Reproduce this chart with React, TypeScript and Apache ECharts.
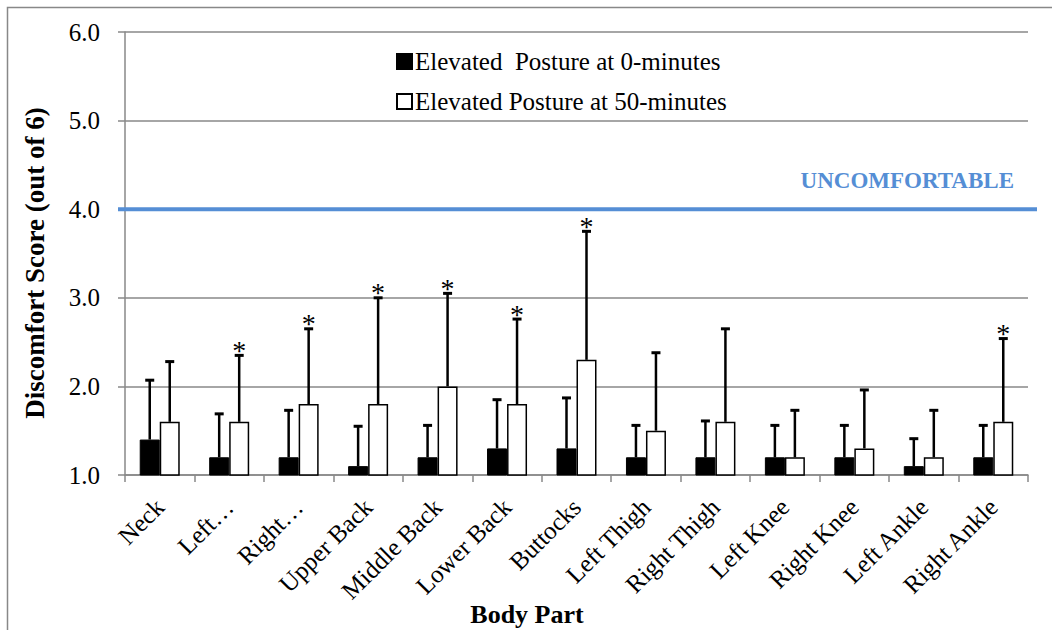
import React, { useEffect, useRef } from "react";
import * as echarts from "echarts";

const categories = [
  "Neck",
  "Left…",
  "Right…",
  "Upper Back",
  "Middle Back",
  "Lower Back",
  "Buttocks",
  "Left Thigh",
  "Right Thigh",
  "Left Knee",
  "Right Knee",
  "Left Ankle",
  "Right Ankle",
];
const seriesNames = ["Elevated  Posture at 0-minutes", "Elevated Posture at 50-minutes"];
const mean0 = [1.4, 1.2, 1.2, 1.1, 1.2, 1.3, 1.3, 1.2, 1.2, 1.2, 1.2, 1.1, 1.2];
const mean50 = [1.6, 1.6, 1.8, 1.8, 2.0, 1.8, 2.3, 1.5, 1.6, 1.2, 1.3, 1.2, 1.6];
const errTop0 = [2.07, 1.69, 1.73, 1.55, 1.56, 1.85, 1.87, 1.56, 1.61, 1.56, 1.56, 1.41, 1.56];
const errTop50 = [2.28, 2.35, 2.65, 3.0, 3.05, 2.76, 3.75, 2.38, 2.65, 1.73, 1.96, 1.73, 2.54];
const significant = [0, 1, 1, 1, 1, 1, 1, 0, 0, 0, 0, 0, 1];
const yMin = 1;
const yMax = 6;
const yInterval = 1;
const threshold = 4.0;
const thresholdLabel = "UNCOMFORTABLE";
const yAxisTitle = "Discomfort Score (out of 6)";
const xAxisTitle = "Body Part";

const FONT = "'Liberation Serif', 'Times New Roman', serif";
const GRAY = "#888888";
const BLUE = "#558ED5";
const BAR_W = 20;

function makeErrRender(offset: number, withStar: boolean) {
  return (params: any, api: any) => {
    const i = api.value(0);
    const base = api.coord([i, api.value(1)]);
    const top = api.coord([i, api.value(2)]);
    const x = base[0] + offset;
    const children: any[] = [
      {
        type: "line",
        shape: { x1: x, y1: base[1], x2: x, y2: top[1] },
        style: { stroke: "#000", lineWidth: 2.5 },
      },
      {
        type: "line",
        shape: { x1: x - 4.5, y1: top[1], x2: x + 4.5, y2: top[1] },
        style: { stroke: "#000", lineWidth: 3 },
      },
    ];
    if (withStar && api.value(3)) {
      children.push({
        type: "text",
        x: x,
        y: top[1] - 5,
        style: {
          text: "*",
          fontSize: 28,
          fontFamily: FONT,
          fill: "#000",
          align: "center",
          verticalAlign: "middle",
        },
      });
    }
    return { type: "group", children };
  };
}

export default function App() {
  const ref = useRef<HTMLDivElement>(null);
  useEffect(() => {
    document.body.style.margin = "0";
    const chart = echarts.init(ref.current!, undefined, { renderer: "svg" });
    const option: any = {
      animation: false,
      backgroundColor: "#fff",
      graphic: [
        {
          type: "rect",
          shape: { x: 7.5, y: 7.5, width: 1200, height: 800 },
          style: { fill: "none", stroke: GRAY, lineWidth: 1.5 },
          silent: true,
        },
        {
          type: "text",
          x: 35,
          y: 263,
          rotation: Math.PI / 2,
          style: {
            text: yAxisTitle,
            fontSize: 27,
            fontWeight: "bold",
            fontFamily: FONT,
            fill: "#000",
            align: "center",
            verticalAlign: "middle",
          },
          silent: true,
        },
        {
          type: "text",
          x: 527,
          y: 614,
          style: {
            text: xAxisTitle,
            fontSize: 26,
            fontWeight: "bold",
            fontFamily: FONT,
            fill: "#000",
            align: "center",
            verticalAlign: "middle",
          },
          silent: true,
        },
      ],
      legend: {
        orient: "vertical",
        left: 391,
        top: 44,
        icon: "rect",
        itemWidth: 15,
        itemHeight: 15,
        itemGap: 15,
        textStyle: { fontSize: 25, fontFamily: FONT, color: "#000", padding: [0, 0, 0, -2] },
        data: seriesNames,
      },
      grid: { left: 125, right: 24, top: 32, bottom: 155, containLabel: false },
      xAxis: {
        type: "category",
        data: categories,
        axisLine: { lineStyle: { color: GRAY, width: 1.5 } },
        axisTick: { show: true, length: 7, lineStyle: { color: GRAY, width: 1.5 } },
        axisLabel: {
          rotate: 45,
          interval: 0,
          fontSize: 25,
          fontFamily: FONT,
          color: "#000",
          margin: 28,
        },
      },
      yAxis: {
        type: "value",
        min: yMin,
        max: yMax,
        interval: yInterval,
        axisLine: { show: true, lineStyle: { color: GRAY, width: 1.5 } },
        axisTick: { show: true, length: 7, lineStyle: { color: GRAY, width: 1.5 } },
        splitLine: { show: true, lineStyle: { color: GRAY, width: 1.5 } },
        axisLabel: {
          formatter: (v: number) => v.toFixed(1),
          fontSize: 25,
          fontFamily: FONT,
          color: "#000",
          margin: 25,
        },
      },
      series: [
        {
          name: seriesNames[0],
          type: "bar",
          data: mean0,
          barWidth: BAR_W,
          barGap: "0%",
          itemStyle: { color: "#000", borderColor: "#000", borderWidth: 1 },
        },
        {
          name: seriesNames[1],
          type: "bar",
          data: mean50,
          barWidth: BAR_W,
          barGap: "0%",
          itemStyle: { color: "#fff", borderColor: "#000", borderWidth: 1.5 },
        },
        {
          type: "custom",
          name: "err0",
          renderItem: makeErrRender(-BAR_W / 2, false),
          data: categories.map((_, i) => [i, mean0[i], errTop0[i], 0]),
          z: 5,
          silent: true,
        },
        {
          type: "custom",
          name: "err50",
          renderItem: makeErrRender(BAR_W / 2, true),
          data: categories.map((_, i) => [i, mean50[i], errTop50[i], significant[i]]),
          z: 5,
          silent: true,
        },
        {
          type: "custom",
          name: "threshold",
          silent: true,
          z: 6,
          data: [[0, threshold]],
          renderItem: (params: any, api: any) => {
            const cs = params.coordSys;
            const y = api.coord([0, api.value(1)])[1];
            return {
              type: "group",
              children: [
                {
                  type: "line",
                  shape: { x1: cs.x - 7, y1: y, x2: cs.x + cs.width + 9, y2: y },
                  style: { stroke: BLUE, lineWidth: 4 },
                },
                {
                  type: "text",
                  x: cs.x + cs.width - 14,
                  y: y - 29,
                  style: {
                    text: thresholdLabel,
                    fontSize: 23,
                    fontWeight: "bold",
                    fontFamily: FONT,
                    fill: BLUE,
                    align: "right",
                    verticalAlign: "middle",
                  },
                },
              ],
            };
          },
        },
      ],
    };
    chart.setOption(option);
    return () => chart.dispose();
  }, []);
  return <div ref={ref} style={{ width: 1052, height: 630 }} />;
}
